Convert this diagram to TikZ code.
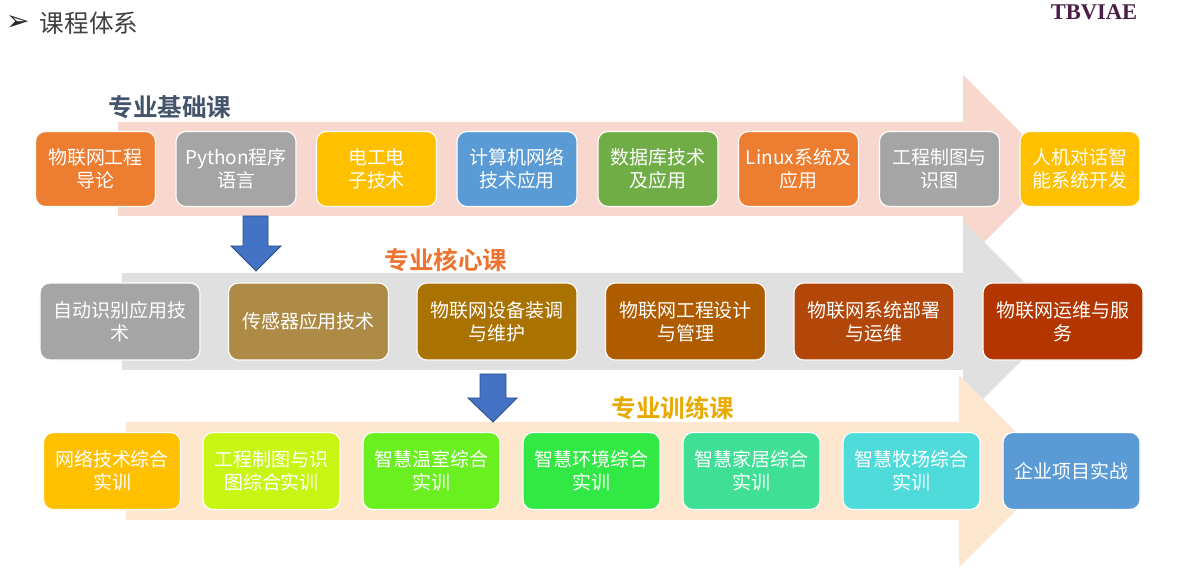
\documentclass[tikz,border=0pt]{standalone}
\usepackage{fontspec}
\setmainfont{Noto Sans CJK SC}[BoldFont={Noto Sans CJK SC Bold}]
\newfontfamily\symfont{DejaVu Sans}
\newfontfamily\logofont{Liberation Serif}
\usetikzlibrary{positioning}
\definecolor{bandpink}{HTML}{F8D8CE}
\definecolor{bandgray}{HTML}{E0E0E0}
\definecolor{bandpeach}{HTML}{FDE7CF}
\definecolor{downblue}{HTML}{4472C4}
\definecolor{cOrange}{HTML}{ED7D31}
\definecolor{cGray}{HTML}{A5A5A5}
\definecolor{cGold}{HTML}{FFC000}
\definecolor{cBlue}{HTML}{5B9BD5}
\definecolor{cGreen}{HTML}{70AD47}
\definecolor{cTan}{HTML}{AD8B47}
\definecolor{cOchre}{HTML}{AA7200}
\definecolor{cAmber}{HTML}{AF5C00}
\definecolor{cRust}{HTML}{B3470A}
\definecolor{cBrick}{HTML}{B33600}
\definecolor{cLime}{HTML}{C8F514}
\definecolor{cLeaf}{HTML}{6AF020}
\definecolor{cGrass}{HTML}{32E845}
\definecolor{cMint}{HTML}{3FE096}
\definecolor{cCyan}{HTML}{50DBDB}
\definecolor{tagslate}{HTML}{44546A}
\definecolor{tagorange}{HTML}{EE7330}
\definecolor{taggold}{HTML}{E8AA00}
\definecolor{logopurple}{HTML}{4B1E46}
\definecolor{titlegray}{HTML}{404040}

\begin{document}
\begin{tikzpicture}[
  x=0.025cm,
  y=-0.025cm,
  course/.style={rectangle, rounded corners=2.5mm, draw=white, line width=0.8pt, text=white, align=center, inner sep=2pt, font=\fontsize{13.5}{16.5}\selectfont},
  basebox/.style={course, minimum width=3cm, minimum height=1.875cm},
  corebox/.style={course, minimum width=4cm, minimum height=1.925cm},
  trainbox/.style={course, minimum width=3.425cm, minimum height=1.925cm},
  downarrow/.style={fill=downblue, draw=downblue!70!black, line width=0.6pt},
  tag/.style={font=\fontsize{17.5}{20}\selectfont\bfseries, inner sep=0pt}
]
  \useasboundingbox (0,0) rectangle (1194,569);

  % header
  \node[font=\symfont\fontsize{20}{22}\selectfont, text=black!85, inner sep=0pt] (bullet) at (18,23) {➢};
  \node[font=\fontsize{17.5}{20}\selectfont, text=titlegray, inner sep=0pt] (title) at (89,23) {课程体系};
  \node[font=\logofont\fontsize{16}{18}\selectfont\bfseries, text=logopurple, inner sep=0pt] (logo) at (1094,12) {TBVIAE};

  % background bands
  \fill[bandpink] (118,122) -- (963,122) -- (963,75) -- (1057,169) -- (963,263) -- (963,216) -- (118,216) -- cycle;
  \fill[bandgray] (122,273) -- (963,273) -- (963,221) -- (1062,320) -- (963,419) -- (963,370) -- (122,370) -- cycle;
  \fill[bandpeach] (126,422) -- (959,422) -- (959,375) -- (1055,471) -- (959,567) -- (959,520) -- (126,520) -- cycle;

  % blue down arrows
  \draw[downarrow] (243,216) -- (268,216) -- (268,246) -- (281,246) -- (256,271) -- (231,246) -- (243,246) -- cycle;
  \draw[downarrow] (480,374) -- (506,374) -- (506,398) -- (517,398) -- (493,422) -- (468,398) -- (480,398) -- cycle;

  % group labels
  \node[tag, text=tagslate] (basetag) at (170,107) {专业基础课};
  \node[tag, text=tagorange] (coretag) at (446,260) {专业核心课};
  \node[tag, text=taggold] (traintag) at (673,408) {专业训练课};

  % 专业基础课
  \node[basebox, fill=cOrange] (b1) at (95.5,169) {物联网工程\\导论};
  \node[basebox, fill=cGray] (b2) at (236,169) {Python程序\\语言};
  \node[basebox, fill=cGold] (b3) at (376.5,169) {电工电\\子技术};
  \node[basebox, fill=cBlue] (b4) at (517,169) {计算机网络\\技术应用};
  \node[basebox, fill=cGreen] (b5) at (658,169) {数据库技术\\及应用};
  \node[basebox, fill=cOrange] (b6) at (798.5,169) {Linux系统及\\应用};
  \node[basebox, fill=cGray] (b7) at (939.5,169) {工程制图与\\识图};
  \node[basebox, fill=cGold] (b8) at (1080,169) {人机对话智\\能系统开发};

  % 专业核心课
  \node[corebox, fill=cGray] (k1) at (120,321.5) {自动识别应用技\\术};
  \node[corebox, fill=cTan] (k2) at (308.5,321.5) {传感器应用技术};
  \node[corebox, fill=cOchre] (k3) at (497,321.5) {物联网设备装调\\与维护};
  \node[corebox, fill=cAmber] (k4) at (685.5,321.5) {物联网工程设计\\与管理};
  \node[corebox, fill=cRust] (k5) at (874,321.5) {物联网系统部署\\与运维};
  \node[corebox, fill=cBrick] (k6) at (1063,321.5) {物联网运维与服\\务};

  % 专业训练课
  \node[trainbox, fill=cGold] (t1) at (112,471) {网络技术综合\\实训};
  \node[trainbox, fill=cLime] (t2) at (271.5,471) {工程制图与识\\图综合实训};
  \node[trainbox, fill=cLeaf] (t3) at (431.5,471) {智慧温室综合\\实训};
  \node[trainbox, fill=cGrass] (t4) at (591.5,471) {智慧环境综合\\实训};
  \node[trainbox, fill=cMint] (t5) at (751.5,471) {智慧家居综合\\实训};
  \node[trainbox, fill=cCyan] (t6) at (911.5,471) {智慧牧场综合\\实训};
  \node[trainbox, fill=cBlue] (t7) at (1071.5,471) {企业项目实战};
\end{tikzpicture}
\end{document}
